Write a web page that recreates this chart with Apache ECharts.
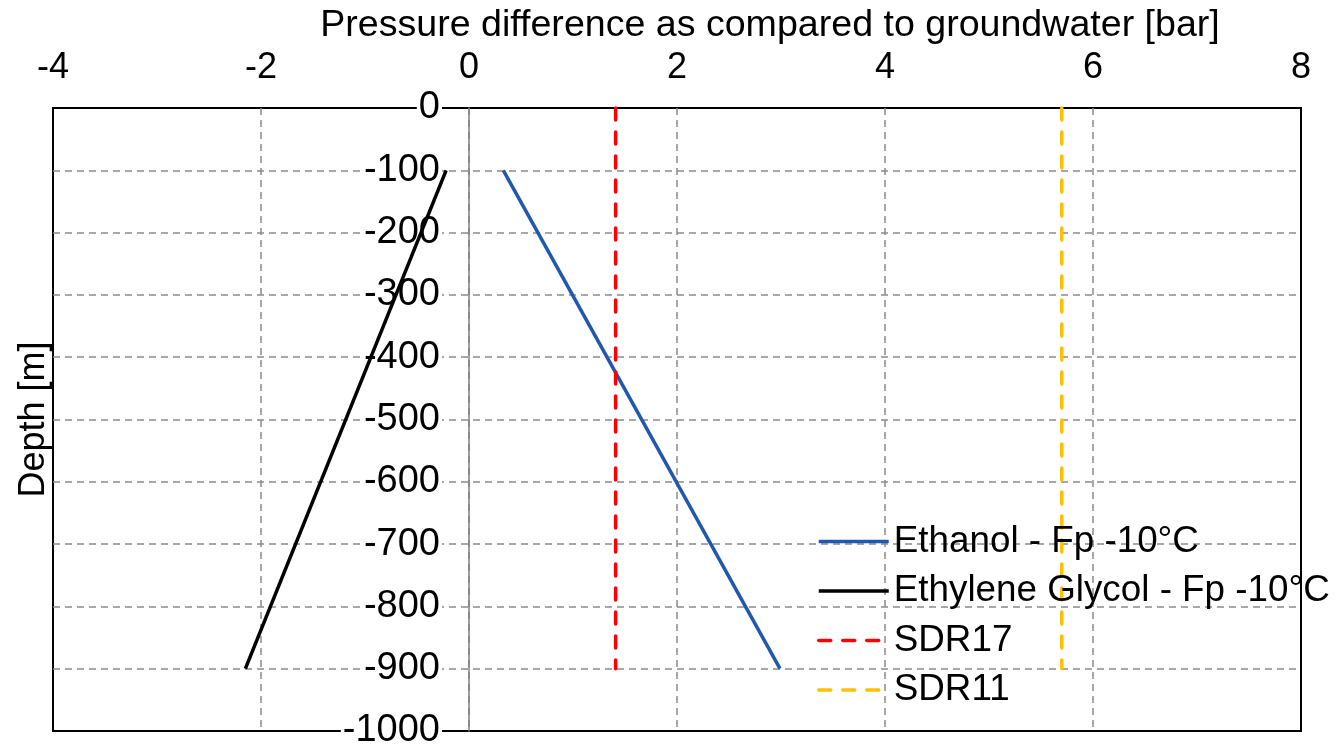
<!DOCTYPE html>
<html>
<head>
<meta charset="utf-8">
<script src="https://cdn.jsdelivr.net/npm/echarts@6/dist/echarts.min.js"></script>
<style>
html,body{margin:0;padding:0;background:#fff;}
#chart{width:1337px;height:747px;}
</style>
</head>
<body>
<div id="chart"></div>
<script>
// Data
const seriesNames = ['Ethanol - Fp -10°C', 'Ethylene Glycol - Fp -10°C', 'SDR17', 'SDR11'];
const ethanolDepth = [-100, -900];
const ethanolPressure = [0.33, 2.99];
const glycolDepth = [-100, -900];
const glycolPressure = [-0.22, -2.15];
const sdr17Depth = [0, -900];
const sdr17Pressure = [1.41, 1.41];
const sdr11Depth = [0, -900];
const sdr11Pressure = [5.70, 5.70];
const xTitle = 'Pressure difference as compared to groundwater [bar]';
const yTitle = 'Depth [m]';

const pairs = (xs, ys) => xs.map((x, i) => [x, ys[i]]);
const FONT = '"Liberation Sans", Arial, sans-serif';
const GRID_LEFT = 53, GRID_RIGHT = 36, X_MIN = -4, X_MAX = 8;
const plotW = 1337 - GRID_LEFT - GRID_RIGHT;
const zeroOffset = plotW * (0 - X_MIN) / (X_MAX - X_MIN);
const grid = '#8a8a8a';

const chart = echarts.init(document.getElementById('chart'), null, {renderer: 'canvas'});
chart.setOption({
  backgroundColor: '#ffffff',
  animation: false,
  grid: {
    left: GRID_LEFT, right: GRID_RIGHT, top: 108, bottom: 16,
    outerBoundsMode: 'none', containLabel: false,
    show: true, borderColor: '#000', borderWidth: 2, backgroundColor: 'transparent'
  },
  xAxis: {
    type: 'value', position: 'top', min: X_MIN, max: X_MAX, interval: 2,
    name: xTitle, nameLocation: 'middle', nameGap: 58,
    nameTextStyle: {fontFamily: FONT, fontSize: 37.6, color: '#000', padding: [0, 0, 0, 186]},
    axisLine: {show: false},
    axisTick: {show: false},
    axisLabel: {fontFamily: FONT, fontSize: 36, color: '#000', margin: 22},
    splitLine: {show: true, showMinLine: false, showMaxLine: false,
      lineStyle: {color: grid, width: 1.5, type: [7, 5]}}
  },
  yAxis: [{
    type: 'value', min: -1000, max: 0, interval: 100,
    axisLine: {show: true, onZero: true, lineStyle: {color: '#7f7f7f', width: 1.5}},
    axisTick: {show: false},
    axisLabel: {show: false},
    splitLine: {show: true, showMinLine: false, showMaxLine: false,
      lineStyle: {color: grid, width: 1.5, type: [7, 5]}}
  }, {
    type: 'value', position: 'left', offset: -zeroOffset, z: 1,
    min: -1000, max: 0, interval: 100,
    name: yTitle, nameLocation: 'middle', nameGap: 417, nameRotate: 90,
    nameTextStyle: {fontFamily: FONT, fontSize: 36, color: '#000'},
    axisLine: {show: false, onZero: false},
    axisTick: {show: false},
    axisLabel: {fontFamily: FONT, fontSize: 38, color: '#000', margin: 27,
      backgroundColor: '#fff', padding: [0, 2, 0, 2],
      formatter: v => String(v)},
    splitLine: {show: false}
  }],
  legend: {
    orient: 'vertical', left: 812, top: 516.5,
    itemWidth: 70, itemHeight: 14, itemGap: 9.5,
    itemStyle: {opacity: 0},
    lineStyle: {width: 3.5},
    textStyle: {fontFamily: FONT, fontSize: 36.8, color: '#000', lineHeight: 40},
    data: seriesNames
  },
  series: [
    {name: seriesNames[0], type: 'line', data: pairs(ethanolPressure, ethanolDepth), z: 3,
     symbol: 'none', lineStyle: {color: '#2058AE', width: 3.5}, itemStyle: {color: '#2058AE'}},
    {name: seriesNames[1], type: 'line', data: pairs(glycolPressure, glycolDepth), z: 3,
     symbol: 'none', lineStyle: {color: '#000', width: 3.5}, itemStyle: {color: '#000'}},
    {name: seriesNames[2], type: 'line', data: pairs(sdr17Pressure, sdr17Depth), z: 3,
     symbol: 'none', lineStyle: {color: '#ff0000', width: 3.5, type: [12, 12], cap: 'round'}, itemStyle: {color: '#ff0000'}},
    {name: seriesNames[3], type: 'line', data: pairs(sdr11Pressure, sdr11Depth), z: 3,
     symbol: 'none', lineStyle: {color: '#ffc000', width: 3.5, type: [12, 12], cap: 'round'}, itemStyle: {color: '#ffc000'}}
  ]
});
</script>
</body>
</html>
